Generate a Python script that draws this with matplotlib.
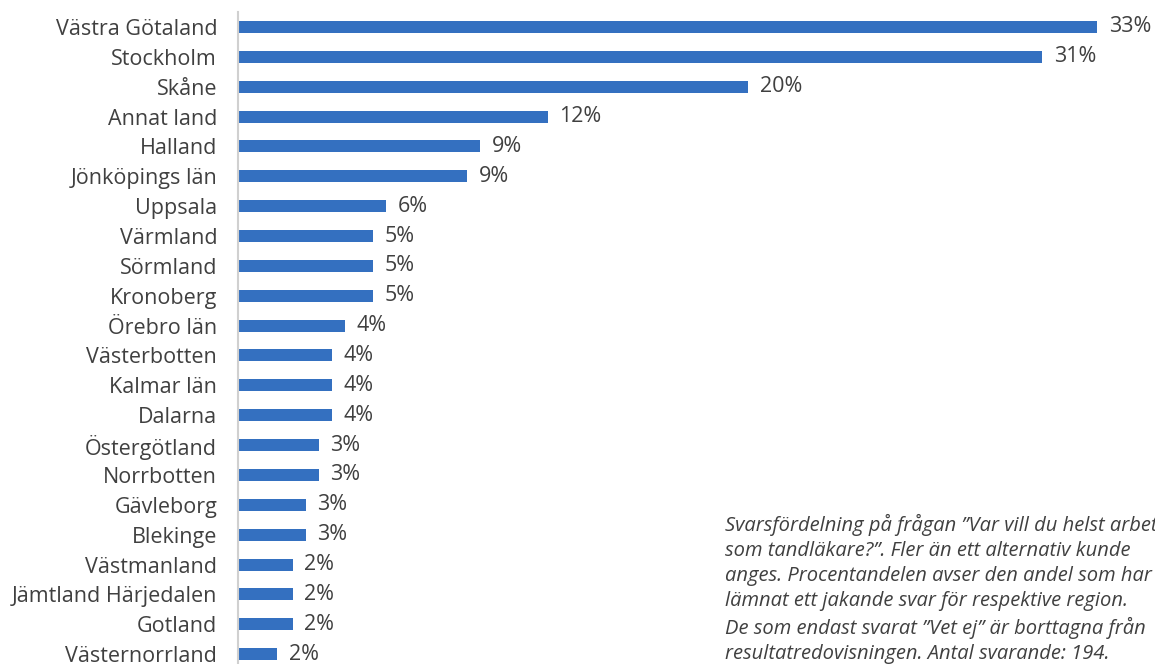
import matplotlib
matplotlib.use('Agg')
import matplotlib.pyplot as plt

plt.rcParams['font.family'] = ['Open Sans', 'DejaVu Sans']

regions = ['Västra Götaland', 'Stockholm', 'Skåne', 'Annat land', 'Halland',
           'Jönköpings län', 'Uppsala', 'Värmland', 'Sörmland', 'Kronoberg',
           'Örebro län', 'Västerbotten', 'Kalmar län', 'Dalarna', 'Östergötland',
           'Norrbotten', 'Gävleborg', 'Blekinge', 'Västmanland',
           'Jämtland Härjedalen', 'Gotland', 'Västernorrland']
# share of respondents (n=194), in percent
shares = [33.0, 30.9, 19.6, 11.9, 9.3, 8.8, 5.7, 5.2, 5.2, 5.2, 4.1, 3.6,
          3.6, 3.6, 3.1, 3.1, 2.6, 2.6, 2.1, 2.1, 2.1, 1.5]
share_labels = ['33%', '31%', '20%', '12%', '9%', '9%', '6%', '5%', '5%', '5%',
                '4%', '4%', '4%', '4%', '3%', '3%', '3%', '3%', '2%', '2%',
                '2%', '2%']

note = ('Svarsfördelning på frågan ”Var vill du helst arbeta\n'
        'som tandläkare?”. Fler än ett alternativ kunde\n'
        'anges. Procentandelen avser den andel som har\n'
        'lämnat ett jakande svar för respektive region.\n'
        'De som endast svarat ”Vet ej” är borttagna från\n'
        'resultatredovisningen. Antal svarande: 194.')

bar_color = '#3470c0'
text_color = '#404040'

fig = plt.figure(figsize=(11.55, 6.64), dpi=100)
ax = fig.add_axes([238 / 1155, 0, 917 / 1155, 652 / 664])

pos = list(range(len(regions)))
ax.barh(pos, shares, height=0.4, color=bar_color)
ax.set_ylim(21.33, -0.5)
ax.set_xlim(0, 917 / 26.03)

for p, v, lab in zip(pos, shares, share_labels):
    ax.text(v + 0.45, p, lab, va='center', ha='left', fontsize=15.5,
            color=text_color)

ax.set_yticks(pos)
ax.set_yticklabels(regions, fontsize=15.5, color=text_color)
ax.tick_params(axis='y', length=0, pad=15)
ax.set_xticks([])
for s in ['top', 'right', 'bottom']:
    ax.spines[s].set_visible(False)
ax.spines['left'].set_color('#d0d0d0')
ax.spines['left'].set_linewidth(1.5)

fig.text(725 / 1155, 1 - 514 / 664, note, ha='left', va='top', fontsize=14.5,
         style='italic', color=text_color, linespacing=1.33)

fig.savefig('out.png', dpi=100)
